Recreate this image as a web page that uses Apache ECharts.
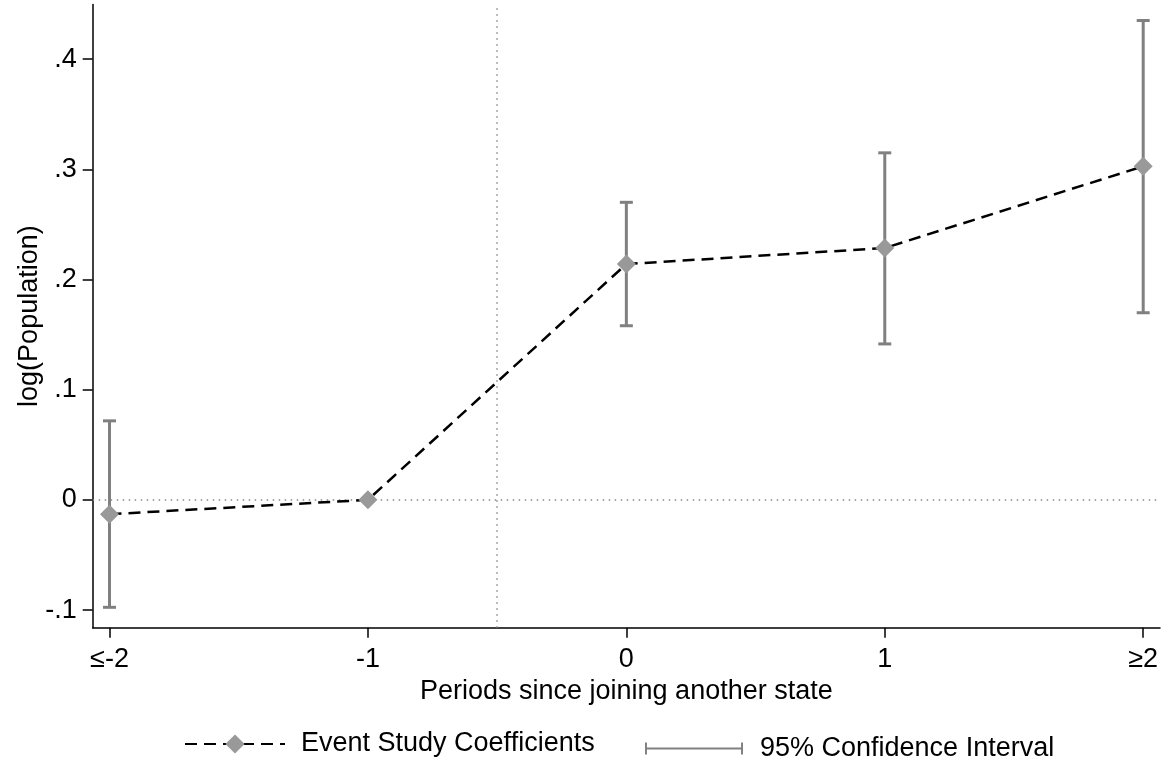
<!DOCTYPE html>
<html>
<head>
<meta charset="utf-8">
<script src="https://cdn.jsdelivr.net/npm/echarts@6/dist/echarts.min.js"></script>
<style>
html,body{margin:0;padding:0;background:#fff;}
#chart{width:1167px;height:762px;}
</style>
</head>
<body>
<div id="chart"></div>
<script>
const tickLabels = ['≤-2', '-1', '0', '1', '≥2'];
const periods = [-2, -1, 0, 1, 2];
const coef = [-0.013, 0, 0.214, 0.2285, 0.3027];
const ciLow = [-0.0975, null, 0.158, 0.1415, 0.1698];
const ciHigh = [0.0717, null, 0.270, 0.3149, 0.435];
const yTicks = [-0.1, 0, 0.1, 0.2, 0.3, 0.4];

const FONT = 'Liberation Sans';
const FS = 27;

const lineData = periods.map((p, i) => [p, coef[i]]);
const ciData = [];
periods.forEach((p, i) => { if (ciLow[i] !== null) ciData.push([p, ciLow[i], ciHigh[i]]); });

function fmtY(v) {
  if (Math.abs(v) < 1e-9) return '0';
  let s = (Math.round(v * 10) / 10).toString();
  return s.replace(/^0\./, '.').replace(/^-0\./, '-.');
}

const chart = echarts.init(document.getElementById('chart'));
chart.setOption({
  animation: false,
  backgroundColor: '#fff',
  textStyle: { fontFamily: FONT },
  grid: { left: 92.7, right: 7, top: 4.5, bottom: 134.3, containLabel: false },
  xAxis: {
    type: 'value', min: -2.065, max: 2.065,
    axisLine: { show: true, onZero: false, lineStyle: { color: '#000', width: 1.5 } },
    axisTick: { show: true, length: 10, lineStyle: { color: '#000', width: 1.5 }, customValues: periods },
    axisLabel: { customValues: periods, margin: 18, color: '#000', fontSize: FS, fontFamily: FONT,
      formatter: v => { const i = periods.indexOf(Math.round(v)); return i >= 0 ? tickLabels[i] : ''; } },
    splitLine: { show: false },
    name: 'Periods since joining another state', nameLocation: 'middle', nameGap: 50, nameMoveOverlap: false,
    nameTextStyle: { color: '#000', fontSize: FS, fontFamily: FONT }
  },
  yAxis: {
    type: 'value', min: -0.116, max: 0.4495,
    axisLine: { show: true, onZero: false, lineStyle: { color: '#000', width: 1.5 } },
    axisTick: { show: true, length: 10, lineStyle: { color: '#000', width: 1.5 }, customValues: yTicks },
    axisLabel: { customValues: yTicks, margin: 16, color: '#000', fontSize: FS, fontFamily: FONT, formatter: fmtY },
    splitLine: { show: false },
    name: 'log(Population)', nameLocation: 'middle', nameGap: 50, nameRotate: 90, nameMoveOverlap: false,
    nameTextStyle: { color: '#000', fontSize: FS, fontFamily: FONT }
  },
  legend: [
    {
      data: ['Event Study Coefficients'], left: 184, top: 730.5,
      itemWidth: 100, itemHeight: 24, padding: 0,
      textStyle: { color: '#000', fontSize: FS, fontFamily: FONT, padding: [0, 0, 0, 11] }
    },
    {
      data: [{ name: '95% Confidence Interval', icon: 'path://M0,0h2v12h-2z M0,5h100v2h-100z M98,0h2v12h-2z' }],
      left: 645, top: 735,
      itemWidth: 98, itemHeight: 12, padding: 0,
      itemStyle: { color: '#808080' },
      textStyle: { color: '#000', fontSize: FS, fontFamily: FONT, padding: [0, 0, 0, 12] }
    }
  ],
  series: [
    {
      name: '95% Confidence Interval', type: 'custom', z: 2,
      itemStyle: { color: '#808080' },
      data: ciData,
      encode: { x: 0, y: [1, 2] },
      renderItem: function (params, api) {
        const x = api.value(0);
        const lo = api.coord([x, api.value(1)]);
        const hi = api.coord([x, api.value(2)]);
        const hw = 6.5;
        const st = { stroke: '#808080', lineWidth: 3 };
        return {
          type: 'group',
          children: [
            { type: 'line', shape: { x1: lo[0], y1: lo[1], x2: hi[0], y2: hi[1] }, style: st },
            { type: 'line', shape: { x1: lo[0] - hw, y1: lo[1], x2: lo[0] + hw, y2: lo[1] }, style: st },
            { type: 'line', shape: { x1: hi[0] - hw, y1: hi[1], x2: hi[0] + hw, y2: hi[1] }, style: st }
          ]
        };
      }
    },
    {
      name: 'Event Study Coefficients', type: 'line', z: 5,
      data: lineData,
      symbol: 'diamond', symbolSize: 19,
      itemStyle: { color: '#999999' },
      lineStyle: { color: '#000', width: 2.5, type: [12, 7] },
      markLine: {
        silent: true, symbol: 'none', label: { show: false },
        lineStyle: { color: '#888', width: 1.5, type: [1.5, 4.5] },
        data: [{ xAxis: -0.5 }, { yAxis: 0 }]
      }
    }
  ]
});
</script>
</body>
</html>
